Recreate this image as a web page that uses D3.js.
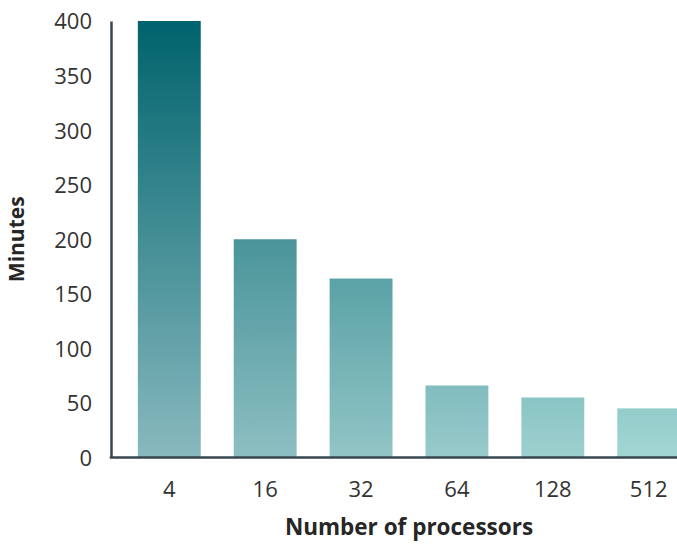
<!DOCTYPE html>
<html lang="en">
<head>
  <meta charset="UTF-8">
  <title>Minutes by number of processors</title>
  <script src="https://d3js.org/d3.v7.min.js"></script>
  <style>
    body { margin: 0; background: #fff; }
    svg { display: block; font-family: "Open Sans", sans-serif; }
    .tick text { fill: #333; font-size: 22px; }
    .axis-title { fill: #262626; font-size: 21px; font-weight: bold; }
    .x-title { font-size: 22.5px; }
  </style>
</head>
<body>
  <svg id="chart" width="677" height="544"></svg>

  <script>
    const processors = ["4", "16", "32", "64", "128", "512"];
    const minutes = [400, 200, 164, 66, 55, 45];
    const yTicks = [0, 50, 100, 150, 200, 250, 300, 350, 400];

    const width = 677;
    const height = 544;
    const margin = { top: 21, right: -30, bottom: 86.5, left: 111 };

    const svg = d3.select("#chart");

    const x = d3.scaleBand()
      .domain(processors)
      .range([margin.left, width - margin.right])
      .paddingInner(0.344)
      .paddingOuter(0.28);

    const y = d3.scaleLinear()
      .domain([0, 400])
      .range([height - margin.bottom, margin.top]);

    // gradient per bar: dark teal at the top of the scale, lighter towards the right
    const topColor = d3.interpolateRgb("#00636d", "#1a8486");
    const bottomColor = d3.interpolateRgb("#88b9be", "#a2d6d3");
    const defs = svg.append("defs");
    processors.forEach((p, i) => {
      const t = i / (processors.length - 1);
      const g = defs.append("linearGradient")
        .attr("id", "grad" + i)
        .attr("gradientUnits", "userSpaceOnUse")
        .attr("x1", 0).attr("x2", 0)
        .attr("y1", y(400)).attr("y2", y(0));
      g.append("stop").attr("offset", "0%").attr("stop-color", topColor(t));
      g.append("stop").attr("offset", "100%").attr("stop-color", bottomColor(t));
    });

    svg.selectAll(".bar")
      .data(processors)
      .enter()
      .append("rect")
      .attr("class", "bar")
      .attr("x", d => x(d))
      .attr("y", (d, i) => y(minutes[i]))
      .attr("width", x.bandwidth())
      .attr("height", (d, i) => y(0) - y(minutes[i]))
      .attr("fill", (d, i) => `url(#grad${i})`);

    // y axis
    const yAxis = svg.append("g")
      .attr("transform", `translate(${margin.left},0)`)
      .call(d3.axisLeft(y).tickValues(yTicks).tickSize(0).tickSizeOuter(0).tickPadding(19));
    yAxis.select(".domain").attr("stroke", "#37474f").attr("stroke-width", 2.5);
    yAxis.selectAll(".tick text").style("font-family", "Open Sans, sans-serif").attr("dy", "0.36em");

    // x axis
    const xAxis = svg.append("g")
      .attr("transform", `translate(0,${y(0)})`)
      .call(d3.axisBottom(x).tickSize(0).tickSizeOuter(0).tickPadding(24));
    xAxis.select(".domain").attr("stroke", "#37474f").attr("stroke-width", 2.5)
      .attr("d", `M${margin.left - 1.25},0H${width}`);
    xAxis.selectAll(".tick text").style("font-family", "Open Sans, sans-serif");

    // titles
    const xMid = (x(processors[0]) + x(processors[processors.length - 1]) + x.bandwidth()) / 2;
    svg.append("text")
      .attr("class", "axis-title x-title")
      .attr("x", xMid)
      .attr("y", 535)
      .attr("text-anchor", "middle")
      .text("Number of processors");

    svg.append("text")
      .attr("class", "axis-title")
      .attr("transform", `translate(24,${(y(0) + y(400)) / 2}) rotate(-90)`)
      .attr("text-anchor", "middle")
      .text("Minutes");
  </script>
</body>
</html>
